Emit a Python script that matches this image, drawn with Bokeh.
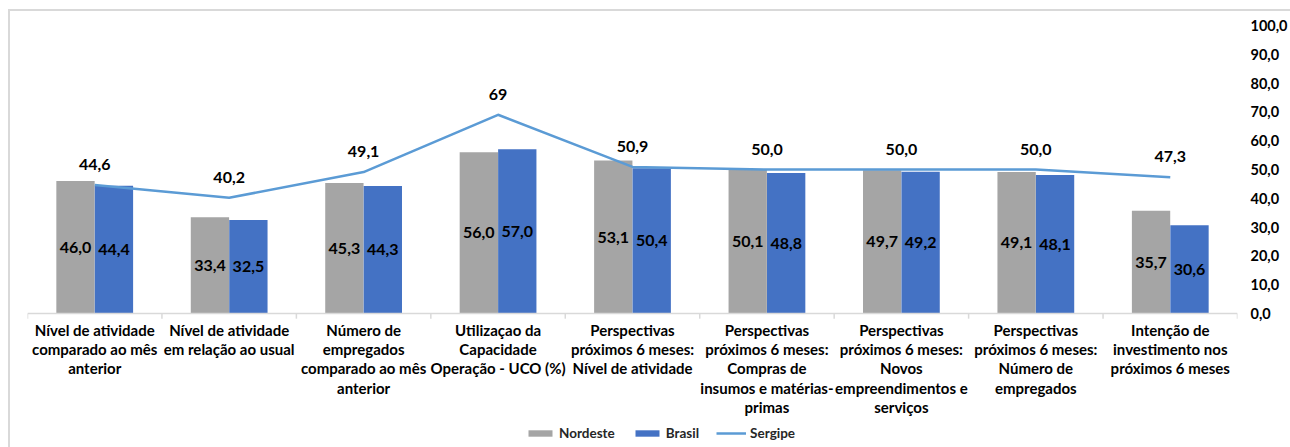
from bokeh.plotting import figure
from bokeh.models import ColumnDataSource, FactorRange, Range1d, FixedTicker, Legend, LegendItem, Span
from bokeh.transform import dodge
from bokeh.core.properties import value
from bokeh.embed import file_html
from bokeh.resources import INLINE

categories = [
    "Nível de atividade\ncomparado ao mês\nanterior",
    "Nível de atividade\nem relação ao usual",
    "Número de\nempregados\ncomparado ao mês\nanterior",
    "Utilizaçao da\nCapacidade\nOperação - UCO (%)",
    "Perspectivas\npróximos 6 meses:\nNível de atividade",
    "Perspectivas\npróximos 6 meses:\nCompras de\ninsumos e matérias-\nprimas",
    "Perspectivas\npróximos 6 meses:\nNovos\nempreendimentos e\nserviços",
    "Perspectivas\npróximos 6 meses:\nNúmero de\nempregados",
    "Intenção de\ninvestimento nos\npróximos 6 meses",
]
nordeste = [46.0, 33.4, 45.3, 56.0, 53.1, 50.1, 49.7, 49.1, 35.7]
brasil = [44.4, 32.5, 44.3, 57.0, 50.4, 48.8, 49.2, 48.1, 30.6]
sergipe = [44.6, 40.2, 49.1, 69, 50.9, 50.0, 50.0, 50.0, 47.3]
sergipe_labels = ["44,6", "40,2", "49,1", "69", "50,9", "50,0", "50,0", "50,0", "47,3"]
y_ticks = [0, 10, 20, 30, 40, 50, 60, 70, 80, 90, 100]

FONT = "Lato"
C_NORD = "#A5A5A5"
C_BRAS = "#4472C4"
C_SERG = "#5B9BD5"
C_AXIS = "#D9D9D9"

def fmt(v):
    return f"{v:.1f}".replace(".", ",")

src = ColumnDataSource(dict(
    cat=categories,
    nord=nordeste, bras=brasil, serg=sergipe,
    nord_mid=[v / 2 for v in nordeste], bras_mid=[v / 2 for v in brasil],
    nord_lbl=[fmt(v) for v in nordeste], bras_lbl=[fmt(v) for v in brasil],
    serg_lbl=sergipe_labels,
    zero=[0] * len(categories), tick_end=[-1.8] * len(categories),
))
last_src = ColumnDataSource(dict(cat=categories[-1:], zero=[0], tick_end=[-1.8]))

W = 1290
H = 447
TOP = 25
ZERO_Y = 313
y_min = -(H - ZERO_Y) * 100.0 / (ZERO_Y - TOP)

p = figure(width=W, height=H, x_range=FactorRange(*categories),
           y_range=Range1d(y_min, 100), y_axis_location="right",
           output_backend="svg", toolbar_location=None,
           min_border_left=27, min_border_right=0, min_border_top=TOP, min_border_bottom=0)
p.outline_line_color = None
p.grid.visible = False
p.x_range.range_padding = 0
p.xaxis.visible = False
p.background_fill_alpha = 0
p.border_fill_alpha = 0
p.styles = {
    "background": "linear-gradient(#D9D9D9, #D9D9D9) 8px 9px / 2px 100% no-repeat, "
                  "linear-gradient(#D9D9D9, #D9D9D9) 8px 9px / 100% 2px no-repeat, #ffffff",
}

# category axis line and boundary ticks
p.add_layout(Span(location=0, dimension="width", line_color=C_AXIS, line_width=1.5))
p.segment(x0=dodge("cat", -0.5, range=p.x_range), y0="zero",
          x1=dodge("cat", -0.5, range=p.x_range), y1="tick_end",
          source=src, line_color=C_AXIS, line_width=1.5)
p.segment(x0=dodge("cat", 0.5, range=p.x_range), y0="zero",
          x1=dodge("cat", 0.5, range=p.x_range), y1="tick_end",
          source=last_src, line_color=C_AXIS, line_width=1.5)

off = 0.143
bw = 0.285
r_nord = p.vbar(x=dodge("cat", -off, range=p.x_range), top="nord", width=bw, bottom=0,
                source=src, fill_color=C_NORD, line_color=None)
r_bras = p.vbar(x=dodge("cat", off, range=p.x_range), top="bras", width=bw, bottom=0,
                source=src, fill_color=C_BRAS, line_color=None)
r_serg = p.line(x="cat", y="serg", source=src, line_color=C_SERG, line_width=2.5)

common = dict(text_font=value(FONT), text_font_style="bold", text_font_size="16px",
              text_color="#000000", text_align="center")
p.text(x=dodge("cat", -off, range=p.x_range), y="nord_mid", text="nord_lbl", source=src,
       text_baseline="middle", **common)
p.text(x=dodge("cat", off, range=p.x_range), y="bras_mid", text="bras_lbl", source=src,
       text_baseline="middle", **common)
p.text(x="cat", y="serg", text="serg_lbl", source=src, text_baseline="bottom",
       y_offset=-15, **common)

# category labels
p.text(x="cat", y="zero", text="cat", source=src, text_baseline="top", text_align="center",
       y_offset=7, text_font=value(FONT), text_font_style="bold", text_font_size="15px",
       text_color="#000000", text_line_height=1.08)

# y axis
ya = p.yaxis[0]
ya.ticker = FixedTicker(ticks=y_ticks)
ya.major_label_overrides = {t: fmt(t) for t in y_ticks}
ya.axis_line_color = None
ya.major_tick_line_color = None
ya.minor_tick_line_color = None
ya.major_label_text_font = FONT
ya.major_label_text_font_style = "bold"
ya.major_label_text_font_size = "14.5px"
ya.major_label_text_color = "#000000"
ya.major_label_standoff = 7

legend = Legend(items=[
    LegendItem(label="Nordeste", renderers=[r_nord]),
    LegendItem(label="Brasil", renderers=[r_bras]),
    LegendItem(label="Sergipe", renderers=[r_serg]),
], orientation="horizontal", location=(498, 6))
legend.background_fill_alpha = 0
legend.border_line_color = None
legend.padding = 0
legend.margin = 0
legend.spacing = 17
legend.glyph_width = 30
legend.glyph_height = 8
legend.label_height = 14
legend.label_standoff = 4
legend.label_text_font = FONT
legend.label_text_font_style = "bold"
legend.label_text_font_size = "13.5px"
legend.label_text_color = "#262626"
p.add_layout(legend)

open("out.html", "w").write(file_html(p, INLINE))
